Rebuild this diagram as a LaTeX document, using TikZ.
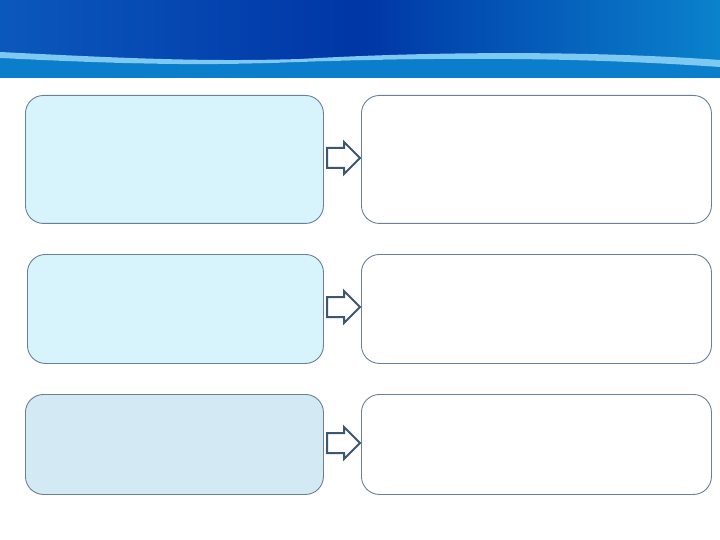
\documentclass[tikz,border=0pt]{standalone}
\definecolor{hdrA}{HTML}{0B58BC}
\definecolor{hdrB}{HTML}{0036A6}
\definecolor{hdrC}{HTML}{0A82CC}
\definecolor{band}{HTML}{0A7ECB}
\definecolor{stripe}{HTML}{7DC9F2}
\definecolor{boxline}{HTML}{6B7F95}
\definecolor{fillA}{HTML}{D7F3FC}
\definecolor{fillB}{HTML}{D3EAF5}
\definecolor{arrline}{HTML}{3E5770}
\tikzset{
  x=1pt, y=-1pt,
  leftbox/.style={draw=boxline, line width=0.9pt, rounded corners=18pt, fill=fillA, anchor=north west, inner sep=0pt},
  rightbox/.style={draw=boxline, line width=0.9pt, rounded corners=18pt, fill=white, anchor=north west, inner sep=0pt, minimum width=350pt},
  blockarrow/.style={draw=arrline, line width=2pt, fill=white, line join=miter}
}
\newcommand{\blockarr}[1]{%
  \draw[blockarrow] (327,#1-10) -- (344,#1-10) -- (344,#1-16) -- (360,#1) -- (344,#1+16) -- (344,#1+10) -- (327,#1+10) -- cycle;}
\begin{document}
\begin{tikzpicture}
\useasboundingbox (0,0) rectangle (720,540);
\fill[white] (0,0) rectangle (720,540);
% header
\shade[left color=hdrA, right color=hdrC, middle color=hdrB] (0,0) rectangle (720,78);
\fill[band] (0,58) .. controls (120,64) and (200,66) .. (300,62) .. controls (420,58) and (560,56) .. (720,66) -- (720,78) -- (0,78) -- cycle;
\fill[stripe] (0,52) .. controls (120,58) and (200,62) .. (300,59) .. controls (420,52) and (580,50) .. (720,60)
  -- (720,67) .. controls (560,56) and (420,58) .. (300,62) .. controls (200,66) and (120,64) .. (0,58) -- cycle;
% boxes
\node[leftbox, minimum width=298pt, minimum height=128pt] (l1) at (25,95) {};
\node[rightbox, minimum height=128pt] (r1) at (361,95) {};
\node[leftbox, minimum width=296pt, minimum height=109pt] (l2) at (27,254) {};
\node[rightbox, minimum height=109pt] (r2) at (361,254) {};
\node[leftbox, fill=fillB, minimum width=298pt, minimum height=100pt] (l3) at (25,394) {};
\node[rightbox, minimum height=100pt] (r3) at (361,394) {};
% arrows
\blockarr{158}
\blockarr{307}
\blockarr{443}
\end{tikzpicture}
\end{document}
